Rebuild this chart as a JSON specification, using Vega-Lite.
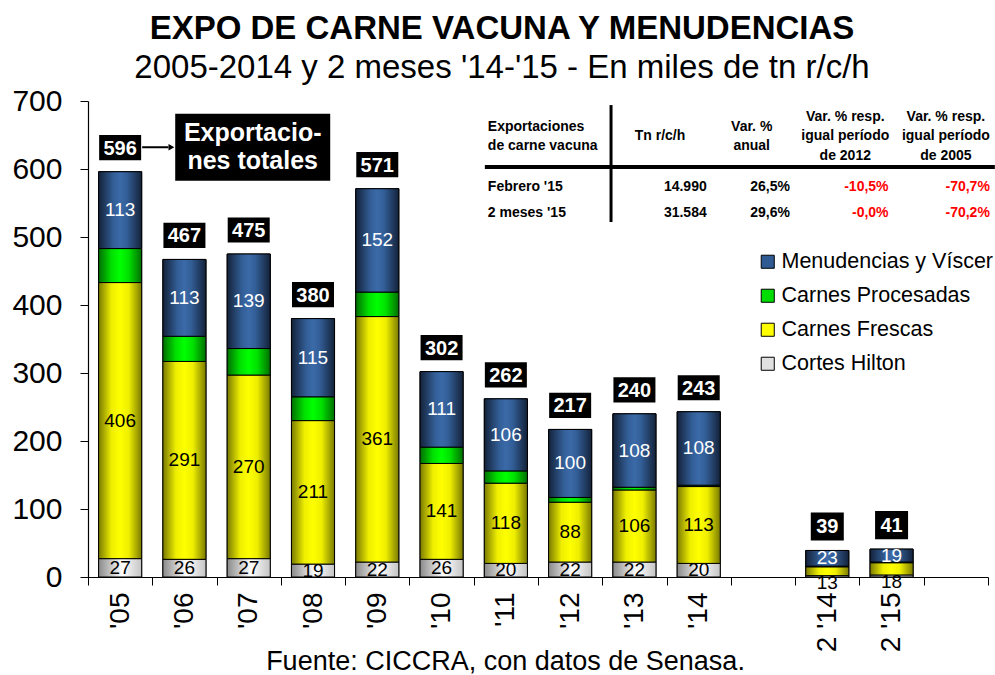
{
  "$schema": "https://vega.github.io/schema/vega-lite/v6.json",
  "width": 900,
  "height": 476,
  "autosize": "none",
  "padding": {"left": 88, "top": 101, "right": 7, "bottom": 98},
  "background": "white",
  "config": {
    "view": {"stroke": null},
    "font": "Liberation Sans",
    "text": {"font": "Liberation Sans"}
  },
  "title": {
    "text": "EXPO DE CARNE VACUNA Y MENUDENCIAS",
    "subtitle": "2005-2014 y 2 meses '14-'15 - En miles de tn r/c/h",
    "anchor": "middle",
    "frame": "group",
    "dx": -36,
    "offset": 1,
    "font": "Liberation Sans",
    "fontSize": 33,
    "fontWeight": "bold",
    "color": "#000000",
    "subtitleFont": "Liberation Sans",
    "subtitleFontSize": 33,
    "subtitleColor": "#000000",
    "subtitlePadding": 6
  },
  "datasets": {
    "seg": [
      {"year": "'05", "serie": "Cortes Hilton", "orden": 1, "value": 27},
      {"year": "'05", "serie": "Carnes Frescas", "orden": 2, "value": 406},
      {"year": "'05", "serie": "Carnes Procesadas", "orden": 3, "value": 50},
      {"year": "'05", "serie": "Menudencias y Víscer", "orden": 4, "value": 113},
      {"year": "'06", "serie": "Cortes Hilton", "orden": 1, "value": 26},
      {"year": "'06", "serie": "Carnes Frescas", "orden": 2, "value": 291},
      {"year": "'06", "serie": "Carnes Procesadas", "orden": 3, "value": 37},
      {"year": "'06", "serie": "Menudencias y Víscer", "orden": 4, "value": 113},
      {"year": "'07", "serie": "Cortes Hilton", "orden": 1, "value": 27},
      {"year": "'07", "serie": "Carnes Frescas", "orden": 2, "value": 270},
      {"year": "'07", "serie": "Carnes Procesadas", "orden": 3, "value": 39},
      {"year": "'07", "serie": "Menudencias y Víscer", "orden": 4, "value": 139},
      {"year": "'08", "serie": "Cortes Hilton", "orden": 1, "value": 19},
      {"year": "'08", "serie": "Carnes Frescas", "orden": 2, "value": 211},
      {"year": "'08", "serie": "Carnes Procesadas", "orden": 3, "value": 35},
      {"year": "'08", "serie": "Menudencias y Víscer", "orden": 4, "value": 115},
      {"year": "'09", "serie": "Cortes Hilton", "orden": 1, "value": 22},
      {"year": "'09", "serie": "Carnes Frescas", "orden": 2, "value": 361},
      {"year": "'09", "serie": "Carnes Procesadas", "orden": 3, "value": 36},
      {"year": "'09", "serie": "Menudencias y Víscer", "orden": 4, "value": 152},
      {"year": "'10", "serie": "Cortes Hilton", "orden": 1, "value": 26},
      {"year": "'10", "serie": "Carnes Frescas", "orden": 2, "value": 141},
      {"year": "'10", "serie": "Carnes Procesadas", "orden": 3, "value": 24},
      {"year": "'10", "serie": "Menudencias y Víscer", "orden": 4, "value": 111},
      {"year": "'11", "serie": "Cortes Hilton", "orden": 1, "value": 20},
      {"year": "'11", "serie": "Carnes Frescas", "orden": 2, "value": 118},
      {"year": "'11", "serie": "Carnes Procesadas", "orden": 3, "value": 18},
      {"year": "'11", "serie": "Menudencias y Víscer", "orden": 4, "value": 106},
      {"year": "'12", "serie": "Cortes Hilton", "orden": 1, "value": 22},
      {"year": "'12", "serie": "Carnes Frescas", "orden": 2, "value": 88},
      {"year": "'12", "serie": "Carnes Procesadas", "orden": 3, "value": 7},
      {"year": "'12", "serie": "Menudencias y Víscer", "orden": 4, "value": 100},
      {"year": "'13", "serie": "Cortes Hilton", "orden": 1, "value": 22},
      {"year": "'13", "serie": "Carnes Frescas", "orden": 2, "value": 106},
      {"year": "'13", "serie": "Carnes Procesadas", "orden": 3, "value": 4},
      {"year": "'13", "serie": "Menudencias y Víscer", "orden": 4, "value": 108},
      {"year": "'14", "serie": "Cortes Hilton", "orden": 1, "value": 20},
      {"year": "'14", "serie": "Carnes Frescas", "orden": 2, "value": 113},
      {"year": "'14", "serie": "Carnes Procesadas", "orden": 3, "value": 2},
      {"year": "'14", "serie": "Menudencias y Víscer", "orden": 4, "value": 108},
      {"year": "2 '14", "serie": "Cortes Hilton", "orden": 1, "value": 2},
      {"year": "2 '14", "serie": "Carnes Frescas", "orden": 2, "value": 13},
      {"year": "2 '14", "serie": "Carnes Procesadas", "orden": 3, "value": 1},
      {"year": "2 '14", "serie": "Menudencias y Víscer", "orden": 4, "value": 23},
      {"year": "2 '15", "serie": "Cortes Hilton", "orden": 1, "value": 3},
      {"year": "2 '15", "serie": "Carnes Frescas", "orden": 2, "value": 18},
      {"year": "2 '15", "serie": "Carnes Procesadas", "orden": 3, "value": 1},
      {"year": "2 '15", "serie": "Menudencias y Víscer", "orden": 4, "value": 19}
    ]
  },
  "layer": [
    {
      "data": {"name": "seg"},
      "transform": [
        {"stack": "value", "groupby": ["year"], "sort": [{"field": "orden", "order": "ascending"}], "as": ["y0", "y1"]}
      ],
      "mark": {"type": "bar", "width": {"band": 0.67}, "stroke": "#000000", "strokeWidth": 1},
      "encoding": {
        "x": {
          "field": "year", "type": "nominal",
          "scale": {"domain": ["'05", "'06", "'07", "'08", "'09", "'10", "'11", "'12", "'13", "'14", "g1", "2 '14", "2 '15", "g2"], "paddingInner": 0, "paddingOuter": 0},
          "axis": {
            "title": "Fuente: CICCRA, con datos de Senasa.",
            "titleFont": "Liberation Sans", "titleFontSize": 27, "titleFontWeight": "normal", "titleColor": "#000000",
            "titleX": 417, "titleY": 92, "titleAlign": "center", "titleBaseline": "alphabetic",
            "labelExpr": "datum.value == 'g1' || datum.value == 'g2' ? '' : datum.value",
            "labelAngle": 270, "labelFontSize": 28, "labelFont": "Liberation Sans", "labelColor": "#000000", "labelPadding": 7,
            "tickBand": "extent", "tickSize": 8, "tickColor": "#000000", "domainColor": "#000000", "domainWidth": 1.2, "grid": false
          }
        },
        "y": {
          "field": "y0", "type": "quantitative",
          "scale": {"domain": [0, 700], "nice": false},
          "axis": {
            "title": null, "values": [0, 100, 200, 300, 400, 500, 600, 700],
            "labelFontSize": 30, "labelFont": "Liberation Sans", "labelColor": "#000000", "labelPadding": 18,
            "tickSize": 8, "tickColor": "#000000", "domainColor": "#000000", "domainWidth": 1.2, "grid": false
          }
        },
        "y2": {"field": "y1"},
        "color": {
          "field": "serie", "type": "nominal",
          "scale": {"domain": ["Menudencias y Víscer", "Carnes Procesadas", "Carnes Frescas", "Cortes Hilton"], "range": ["#2f5a92", "#00dd00", "#ffff00", "#e0e0e0"]},
          "legend": {
            "orient": "none", "legendX": 669, "legendY": 150, "title": null, "padding": 0,
            "symbolType": "square", "symbolSize": 170, "symbolStrokeColor": "#000000", "symbolStrokeWidth": 1, "symbolOpacity": 1,
            "labelFontSize": 21.5, "labelFont": "Liberation Sans", "labelColor": "#000000", "labelLimit": 400, "rowPadding": 11, "labelOffset": 3
          }
        }
      }
    },
    {
      "data": {"name": "seg"},
      "transform": [
        {"stack": "value", "groupby": ["year"], "sort": [{"field": "orden", "order": "ascending"}], "as": ["y0", "y1"]},
        {"filter": {"field": "serie", "equal": "Cortes Hilton"}}
      ],
      "mark": {"type": "bar", "width": {"band": 0.67}, "stroke": "#000000", "strokeWidth": 1,
        "fill": {"gradient": "linear", "x1": 0, "y1": 0, "x2": 1, "y2": 0, "stops": [{"offset": 0, "color": "#8a8a8a"}, {"offset": 0.55, "color": "#ffffff"}, {"offset": 1, "color": "#c4c4c4"}]}},
      "encoding": {"x": {"field": "year", "type": "nominal"}, "y": {"field": "y0", "type": "quantitative"}, "y2": {"field": "y1"}}
    },
    {
      "data": {"name": "seg"},
      "transform": [
        {"stack": "value", "groupby": ["year"], "sort": [{"field": "orden", "order": "ascending"}], "as": ["y0", "y1"]},
        {"filter": {"field": "serie", "equal": "Carnes Frescas"}}
      ],
      "mark": {"type": "bar", "width": {"band": 0.67}, "stroke": "#000000", "strokeWidth": 1,
        "fill": {"gradient": "linear", "x1": 0, "y1": 0, "x2": 1, "y2": 0, "stops": [{"offset": 0, "color": "#7a7a00"}, {"offset": 0.3, "color": "#eeee00"}, {"offset": 0.5, "color": "#ffff00"}, {"offset": 0.7, "color": "#eeee00"}, {"offset": 1, "color": "#7a7a00"}]}},
      "encoding": {"x": {"field": "year", "type": "nominal"}, "y": {"field": "y0", "type": "quantitative"}, "y2": {"field": "y1"}}
    },
    {
      "data": {"name": "seg"},
      "transform": [
        {"stack": "value", "groupby": ["year"], "sort": [{"field": "orden", "order": "ascending"}], "as": ["y0", "y1"]},
        {"filter": {"field": "serie", "equal": "Carnes Procesadas"}}
      ],
      "mark": {"type": "bar", "width": {"band": 0.67}, "stroke": "#000000", "strokeWidth": 1,
        "fill": {"gradient": "linear", "x1": 0, "y1": 0, "x2": 1, "y2": 0, "stops": [{"offset": 0, "color": "#006e00"}, {"offset": 0.3, "color": "#00e000"}, {"offset": 0.5, "color": "#00ff00"}, {"offset": 0.7, "color": "#00e000"}, {"offset": 1, "color": "#006e00"}]}},
      "encoding": {"x": {"field": "year", "type": "nominal"}, "y": {"field": "y0", "type": "quantitative"}, "y2": {"field": "y1"}}
    },
    {
      "data": {"name": "seg"},
      "transform": [
        {"stack": "value", "groupby": ["year"], "sort": [{"field": "orden", "order": "ascending"}], "as": ["y0", "y1"]},
        {"filter": {"field": "serie", "equal": "Menudencias y Víscer"}}
      ],
      "mark": {"type": "bar", "width": {"band": 0.67}, "stroke": "#000000", "strokeWidth": 1,
        "fill": {"gradient": "linear", "x1": 0, "y1": 0, "x2": 1, "y2": 0, "stops": [{"offset": 0, "color": "#14223a"}, {"offset": 0.35, "color": "#335f98"}, {"offset": 0.5, "color": "#3b6aa8"}, {"offset": 0.65, "color": "#335f98"}, {"offset": 1, "color": "#14223a"}]}},
      "encoding": {"x": {"field": "year", "type": "nominal"}, "y": {"field": "y0", "type": "quantitative"}, "y2": {"field": "y1"}}
    },
    {
      "data": {"name": "seg"},
      "transform": [
        {"stack": "value", "groupby": ["year"], "sort": [{"field": "orden", "order": "ascending"}], "as": ["y0", "y1"]},
        {"calculate": "(datum.y0 + datum.y1) / 2", "as": "mid"},
        {"filter": {"field": "serie", "oneOf": ["Cortes Hilton", "Carnes Frescas"]}},
        {"filter": {"not": {"field": "year", "oneOf": ["2 '14", "2 '15"]}}}
      ],
      "mark": {"type": "text", "fontSize": 19, "baseline": "middle", "align": "center", "color": "#000000"},
      "encoding": {"x": {"field": "year", "type": "nominal"}, "y": {"field": "mid", "type": "quantitative"}, "text": {"field": "value", "type": "quantitative"}}
    },
    {
      "data": {"name": "seg"},
      "transform": [
        {"stack": "value", "groupby": ["year"], "sort": [{"field": "orden", "order": "ascending"}], "as": ["y0", "y1"]},
        {"filter": {"field": "serie", "equal": "Carnes Frescas"}},
        {"filter": {"field": "year", "oneOf": ["2 '14", "2 '15"]}}
      ],
      "mark": {"type": "text", "fontSize": 19, "baseline": "middle", "align": "center", "color": "#000000", "yOffset": 7},
      "encoding": {"x": {"field": "year", "type": "nominal"}, "y": {"field": "y0", "type": "quantitative"}, "text": {"field": "value", "type": "quantitative"}}
    },
    {
      "data": {"name": "seg"},
      "transform": [
        {"stack": "value", "groupby": ["year"], "sort": [{"field": "orden", "order": "ascending"}], "as": ["y0", "y1"]},
        {"calculate": "(datum.y0 + datum.y1) / 2", "as": "mid"},
        {"filter": {"field": "serie", "equal": "Menudencias y Víscer"}}
      ],
      "mark": {"type": "text", "fontSize": 19, "baseline": "middle", "align": "center", "color": "#ffffff"},
      "encoding": {"x": {"field": "year", "type": "nominal"}, "y": {"field": "mid", "type": "quantitative"}, "text": {"field": "value", "type": "quantitative"}}
    },
    {
      "data": {"name": "seg"},
      "transform": [
        {"aggregate": [{"op": "sum", "field": "value", "as": "total"}], "groupby": ["year"]},
        {"filter": "datum.total >= 100"}
      ],
      "mark": {"type": "point", "filled": true, "opacity": 1, "color": "#000000", "shape": "M-1,-0.6H1V0.6H-1Z", "size": 1764, "yOffset": -24},
      "encoding": {"x": {"field": "year", "type": "nominal"}, "y": {"field": "total", "type": "quantitative"}}
    },
    {
      "data": {"name": "seg"},
      "transform": [
        {"aggregate": [{"op": "sum", "field": "value", "as": "total"}], "groupby": ["year"]},
        {"filter": "datum.total < 100"}
      ],
      "mark": {"type": "point", "filled": true, "opacity": 1, "color": "#000000", "shape": "M-1,-0.85H1V0.85H-1Z", "size": 1089, "yOffset": -24},
      "encoding": {"x": {"field": "year", "type": "nominal"}, "y": {"field": "total", "type": "quantitative"}}
    },
    {
      "data": {"name": "seg"},
      "transform": [
        {"aggregate": [{"op": "sum", "field": "value", "as": "total"}], "groupby": ["year"]}
      ],
      "mark": {"type": "text", "fontSize": 20, "fontWeight": "bold", "color": "#ffffff", "baseline": "middle", "align": "center", "yOffset": -23},
      "encoding": {"x": {"field": "year", "type": "nominal"}, "y": {"field": "total", "type": "quantitative"}, "text": {"field": "total", "type": "quantitative"}}
    },
    {
      "data": {"values": [{}]},
      "mark": {"type": "point", "filled": true, "opacity": 1, "color": "#000000", "shape": "M-1,-0.432H1V0.432H-1Z", "size": 24025, "xOffset": 4},
      "encoding": {"x": {"datum": "'07"}, "y": {"datum": 632}}
    },
    {
      "data": {"values": [{}]},
      "mark": {"type": "text", "text": ["Exportacio-", "nes totales"], "fontSize": 25, "fontWeight": "bold", "color": "#ffffff", "baseline": "middle", "align": "center", "lineHeight": 28, "xOffset": 4, "yOffset": -14},
      "encoding": {"x": {"datum": "'07"}, "y": {"datum": 632}}
    },
    {
      "data": {"values": [{}]},
      "mark": {"type": "rule", "color": "#000000", "strokeWidth": 2, "xOffset": 22, "x2Offset": -16},
      "encoding": {"x": {"datum": "'05"}, "x2": {"datum": "'06"}, "y": {"datum": 632}}
    },
    {
      "data": {"values": [{}]},
      "mark": {"type": "point", "shape": "triangle-right", "filled": true, "opacity": 1, "color": "#000000", "size": 45, "xOffset": -13},
      "encoding": {"x": {"datum": "'06"}, "y": {"datum": 632}}
    },
    {
      "data": {"values": [{}]},
      "mark": {"type": "rule", "color": "#000000", "strokeWidth": 3, "xOffset": -23.4},
      "encoding": {"x": {"datum": "'13"}, "y": {"datum": 694}, "y2": {"datum": 522}}
    },
    {
      "data": {"values": [{}]},
      "mark": {"type": "rule", "color": "#000000", "strokeWidth": 4, "xOffset": -21, "x2Offset": 39},
      "encoding": {"x": {"datum": "'11"}, "x2": {"datum": "g2"}, "y": {"datum": 603}}
    },
    {
      "data": {"values": [{}]},
      "mark": {"type": "text", "text": ["Exportaciones", "de carne vacuna"], "fontSize": 14, "fontWeight": "bold", "color": "#000000", "align": "left", "baseline": "middle", "lineHeight": 19, "xOffset": -18, "yOffset": -9.5},
      "encoding": {"x": {"datum": "'11"}, "y": {"datum": 648.5}}
    },
    {
      "data": {"values": [{}]},
      "mark": {"type": "text", "text": "Tn r/c/h", "fontSize": 14, "fontWeight": "bold", "color": "#000000", "align": "center", "baseline": "middle", "xOffset": 25.6},
      "encoding": {"x": {"datum": "'13"}, "y": {"datum": 648.5}}
    },
    {
      "data": {"values": [{}]},
      "mark": {"type": "text", "text": ["Var. %", "anual"], "fontSize": 14, "fontWeight": "bold", "color": "#000000", "align": "center", "baseline": "middle", "lineHeight": 19, "xOffset": 53, "yOffset": -9.5},
      "encoding": {"x": {"datum": "'14"}, "y": {"datum": 648.5}}
    },
    {
      "data": {"values": [{}]},
      "mark": {"type": "text", "text": ["Var. % resp.", "igual período", "de 2012"], "fontSize": 14, "fontWeight": "bold", "color": "#000000", "align": "center", "baseline": "middle", "lineHeight": 19.5, "xOffset": 18, "yOffset": -19.5},
      "encoding": {"x": {"datum": "2 '14"}, "y": {"datum": 648.5}}
    },
    {
      "data": {"values": [{}]},
      "mark": {"type": "text", "text": ["Var. % resp.", "igual período", "de 2005"], "fontSize": 14, "fontWeight": "bold", "color": "#000000", "align": "center", "baseline": "middle", "lineHeight": 19.5, "xOffset": -10, "yOffset": -19.5},
      "encoding": {"x": {"datum": "g2"}, "y": {"datum": 648.5}}
    },
    {
      "data": {"values": [{}]},
      "mark": {"type": "text", "text": "Febrero '15", "fontSize": 14, "fontWeight": "bold", "color": "#000000", "align": "left", "baseline": "middle", "xOffset": -18},
      "encoding": {"x": {"datum": "'11"}, "y": {"datum": 573.5}}
    },
    {
      "data": {"values": [{}]},
      "mark": {"type": "text", "text": "2 meses '15", "fontSize": 14, "fontWeight": "bold", "color": "#000000", "align": "left", "baseline": "middle", "xOffset": -18},
      "encoding": {"x": {"datum": "'11"}, "y": {"datum": 535.3}}
    },
    {
      "data": {"values": [{}]},
      "mark": {"type": "text", "text": "14.990", "fontSize": 14, "fontWeight": "bold", "color": "#000000", "align": "right", "baseline": "middle", "xOffset": 8},
      "encoding": {"x": {"datum": "'14"}, "y": {"datum": 573.5}}
    },
    {
      "data": {"values": [{}]},
      "mark": {"type": "text", "text": "31.584", "fontSize": 14, "fontWeight": "bold", "color": "#000000", "align": "right", "baseline": "middle", "xOffset": 8},
      "encoding": {"x": {"datum": "'14"}, "y": {"datum": 535.3}}
    },
    {
      "data": {"values": [{}]},
      "mark": {"type": "text", "text": "26,5%", "fontSize": 14, "fontWeight": "bold", "color": "#000000", "align": "right", "baseline": "middle", "xOffset": 27},
      "encoding": {"x": {"datum": "g1"}, "y": {"datum": 573.5}}
    },
    {
      "data": {"values": [{}]},
      "mark": {"type": "text", "text": "29,6%", "fontSize": 14, "fontWeight": "bold", "color": "#000000", "align": "right", "baseline": "middle", "xOffset": 27},
      "encoding": {"x": {"datum": "g1"}, "y": {"datum": 535.3}}
    },
    {
      "data": {"values": [{}]},
      "mark": {"type": "text", "text": "-10,5%", "fontSize": 14, "fontWeight": "bold", "color": "#ff0000", "align": "right", "baseline": "middle", "xOffset": -3},
      "encoding": {"x": {"datum": "2 '15"}, "y": {"datum": 573.5}}
    },
    {
      "data": {"values": [{}]},
      "mark": {"type": "text", "text": "-0,0%", "fontSize": 14, "fontWeight": "bold", "color": "#ff0000", "align": "right", "baseline": "middle", "xOffset": -3},
      "encoding": {"x": {"datum": "2 '15"}, "y": {"datum": 535.3}}
    },
    {
      "data": {"values": [{}]},
      "mark": {"type": "text", "text": "-70,7%", "fontSize": 14, "fontWeight": "bold", "color": "#ff0000", "align": "right", "baseline": "middle", "xOffset": 34},
      "encoding": {"x": {"datum": "g2"}, "y": {"datum": 573.5}}
    },
    {
      "data": {"values": [{}]},
      "mark": {"type": "text", "text": "-70,2%", "fontSize": 14, "fontWeight": "bold", "color": "#ff0000", "align": "right", "baseline": "middle", "xOffset": 34},
      "encoding": {"x": {"datum": "g2"}, "y": {"datum": 535.3}}
    }
  ]
}
